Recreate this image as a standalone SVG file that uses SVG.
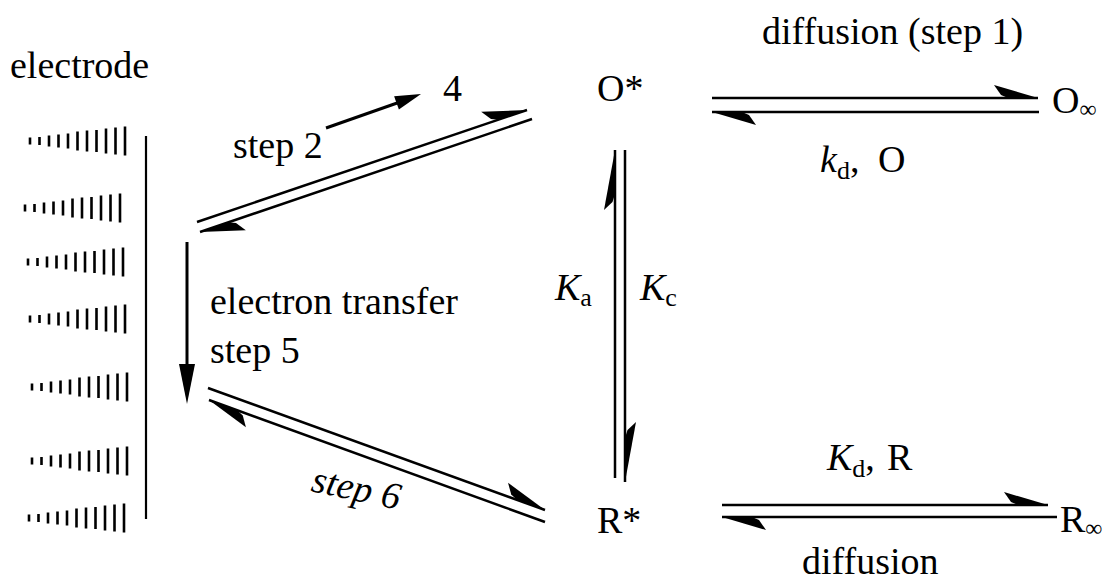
<svg xmlns="http://www.w3.org/2000/svg" xmlns:xlink="http://www.w3.org/1999/xlink" width="1116" height="582" viewBox="0 0 1116 582">
<style>
text{font-family:"Liberation Serif","Tinos","DejaVu Serif","Times New Roman",serif;font-size:38px;fill:#000}
.it{font-style:italic}
.ln{stroke:#000;stroke-width:2.5;fill:none}
.tk{stroke:#000;stroke-width:2.6;fill:none}
</style>
<defs>
<marker id="hp" markerUnits="userSpaceOnUse" markerWidth="50" markerHeight="20" viewBox="-48 -16 50 20" refX="0" refY="0" orient="auto" overflow="visible"><path d="M0,0 L-44,-13 L-37,-3 L-30,0 Z" fill="#000"/></marker>
<marker id="hpv" markerUnits="userSpaceOnUse" markerWidth="66" markerHeight="16" viewBox="-64 -14 66 16" refX="0" refY="0" orient="auto" overflow="visible"><path d="M0,0 L-60,-11 L-52,-2.5 L-44,0 Z" fill="#000"/></marker>
<path id="ticks" class="tk" d="M0,-3.5v7M9.5,-4v8M19,-5.5v11M28.5,-6.5v13M38,-7.5v15M47.5,-9.5v19M57,-10.5v21M66.5,-11v22M76,-12.5v25M85.5,-13.5v27M95,-14.5v29"/>
</defs>
<g id="electrode">
<text x="10" y="78" font-family="Liberation Serif, DejaVu Serif, serif">electrode</text>
<line x1="146" y1="136" x2="146" y2="519" stroke="#000" stroke-width="2.2"/>
<use xlink:href="#ticks" transform="translate(30,141)"/>
<use xlink:href="#ticks" transform="translate(25,208)"/>
<use xlink:href="#ticks" transform="translate(28,262)"/>
<use xlink:href="#ticks" transform="translate(30,319)"/>
<use xlink:href="#ticks" transform="translate(32,387)"/>
<use xlink:href="#ticks" transform="translate(32,461)"/>
<use xlink:href="#ticks" transform="translate(29,518)"/>
</g>
<g id="node-4"><text x="443" y="101">4</text></g>
<g id="node-Ostar"><text x="597" y="101">O*</text></g>
<g id="node-Rstar"><text x="597" y="533">R*</text></g>
<g id="node-Oinf"><text x="1052" y="113">O<tspan font-size="24" dy="4">∞</tspan></text></g>
<g id="node-Rinf"><text x="1060" y="532">R<tspan font-size="24" dy="4">∞</tspan></text></g>
<g id="connectors">
<line class="ln" x1="197" y1="222" x2="527" y2="110" marker-end="url(#hp)"/>
<line class="ln" x1="532" y1="119" x2="200" y2="232" marker-end="url(#hp)"/>
<line x1="326" y1="128" x2="400" y2="102" stroke="#000" stroke-width="3"/>
<polygon points="421,94 398.9,109.4 394.1,96.2" fill="#000"/>
<line x1="187" y1="242" x2="187" y2="372" stroke="#000" stroke-width="3"/>
<polygon points="179,364 195,364 187,404" fill="#000"/>
<line class="ln" x1="208" y1="388" x2="545" y2="510" marker-end="url(#hp)"/>
<line class="ln" x1="545" y1="522" x2="209" y2="400" marker-end="url(#hp)"/>
<line class="ln" x1="615" y1="478" x2="615" y2="150" marker-end="url(#hpv)"/>
<line class="ln" x1="625" y1="150" x2="625" y2="482" marker-end="url(#hpv)"/>
<line class="ln" x1="712" y1="98" x2="1038" y2="98" marker-end="url(#hp)"/>
<line class="ln" x1="1039" y1="112" x2="712" y2="112" marker-end="url(#hp)"/>
<line class="ln" x1="722" y1="505" x2="1048" y2="505" marker-end="url(#hp)"/>
<line class="ln" x1="1057" y1="517" x2="722" y2="517" marker-end="url(#hp)"/>
</g>
<g id="labels">
<text x="233" y="158">step 2</text>
<text x="210" y="314">electron transfer</text>
<text x="210" y="363">step 5</text>
<text class="it" x="310" y="491" transform="rotate(12 310 491)">step 6</text>
<text x="555" y="300"><tspan class="it">K</tspan><tspan font-size="26" dy="6">a</tspan></text>
<text x="640" y="300"><tspan class="it">K</tspan><tspan font-size="26" dy="6">c</tspan></text>
<text x="762" y="44">diffusion (step 1)</text>
<text x="820" y="172"><tspan class="it">k</tspan><tspan font-size="26" dy="7">d</tspan><tspan dy="-7">,</tspan><tspan x="878">O</tspan></text>
<text x="827" y="470"><tspan class="it">K</tspan><tspan font-size="26" dy="7">d</tspan><tspan dy="-7">,</tspan><tspan x="887">R</tspan></text>
<text x="802" y="574">diffusion</text>
</g>
</svg>
